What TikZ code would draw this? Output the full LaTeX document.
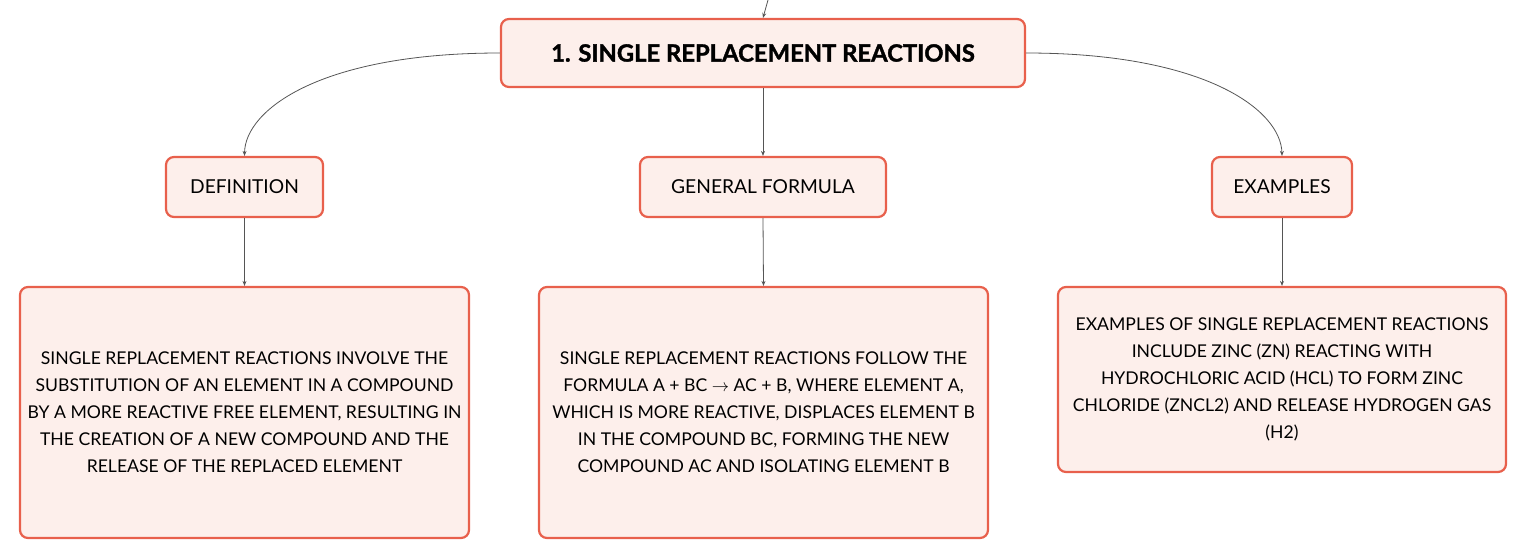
\documentclass[tikz,border=0pt]{standalone}
\usepackage{fontspec}
\setmainfont{Lato}
\newfontfamily\titlefont[FakeBold=1.5]{Lato Bold}
\usetikzlibrary{arrows.meta}
\definecolor{boxline}{HTML}{E8604C}
\definecolor{boxfill}{HTML}{FDEFEB}
\definecolor{wire}{HTML}{555555}
\begin{document}
\begin{tikzpicture}[x=1pt,y=-1pt,
  box/.style={draw=boxline, fill=boxfill, line width=2.2pt, rounded corners=8pt, inner sep=0pt, align=center, text=black},
  conn/.style={draw=wire, line width=0.8pt, -{Stealth[length=5pt,width=4pt]}},
  body/.style={font=\fontsize{17.6}{27}\selectfont},
  lbl/.style={font=\fontsize{19.2}{22}\selectfont}
]
\useasboundingbox (0,0) rectangle (1527,558);
\node[box, minimum width=524pt, minimum height=68pt, font=\fontsize{23.8}{26}\titlefont] (main) at (763,53) {1. SINGLE REPLACEMENT REACTIONS};
\node[box, lbl, minimum width=157pt, minimum height=60pt] (def) at (244.5,187) {DEFINITION};
\node[box, lbl, minimum width=246pt, minimum height=60pt] (gf) at (763,187) {GENERAL FORMULA};
\node[box, lbl, minimum width=140pt, minimum height=60pt] (ex) at (1282,187) {EXAMPLES};
\node[box, body, minimum width=449pt, minimum height=251pt] (deft) at (244.5,412.5) {SINGLE REPLACEMENT REACTIONS INVOLVE THE\\SUBSTITUTION OF AN ELEMENT IN A COMPOUND\\BY A MORE REACTIVE FREE ELEMENT, RESULTING IN\\THE CREATION OF A NEW COMPOUND AND THE\\RELEASE OF THE REPLACED ELEMENT};
\node[box, body, minimum width=449pt, minimum height=251pt] (gft) at (763.5,412.5) {SINGLE REPLACEMENT REACTIONS FOLLOW THE\\FORMULA A + BC $\rightarrow$ AC + B, WHERE ELEMENT A,\\WHICH IS MORE REACTIVE, DISPLACES ELEMENT B\\IN THE COMPOUND BC, FORMING THE NEW\\COMPOUND AC AND ISOLATING ELEMENT B};
\node[box, body, minimum width=448pt, minimum height=185pt] (ext) at (1282,379.5) {EXAMPLES OF SINGLE REPLACEMENT REACTIONS\\INCLUDE ZINC (ZN) REACTING WITH\\HYDROCHLORIC ACID (HCL) TO FORM ZINC\\CHLORIDE (ZNCL2) AND RELEASE HYDROGEN GAS\\(H2)};
\coordinate (top) at (768,0);
\draw[conn] (top) -- (main.north);
\draw[conn] (main.west) .. controls (320,53) and (245,110) .. (def.north);
\draw[conn] (main.east) .. controls (1205,53) and (1281,110) .. (ex.north);
\draw[conn] (main.south) -- (gf.north);
\draw[conn] (def.south) -- (deft.north);
\draw[conn] (gf.south) -- (gft.north);
\draw[conn] (ex.south) -- (ext.north);
\end{tikzpicture}
\end{document}
